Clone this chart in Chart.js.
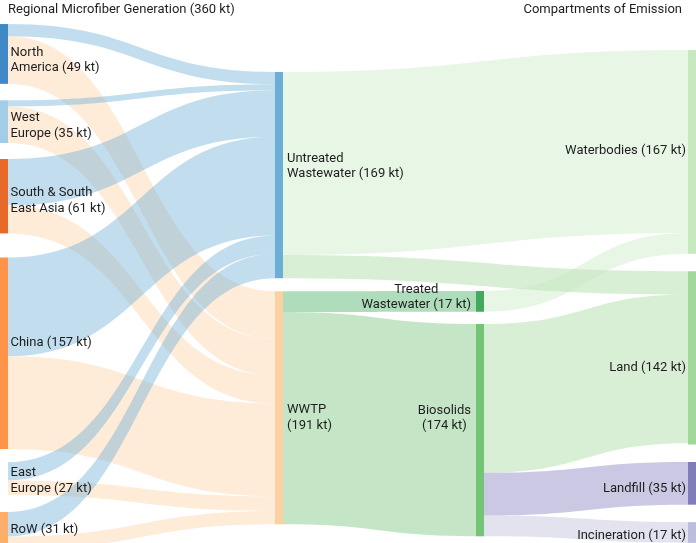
<!DOCTYPE html>
<html>
<head>
<meta charset="UTF-8">
<title>Microfiber flows</title>
<script src="https://cdn.jsdelivr.net/npm/chart.js@4.4.1/dist/chart.umd.min.js"></script>
<style>
	html, body { margin: 0; padding: 0; background: #fff; }
	#wrap { width: 696px; height: 543px; }
</style>
</head>
<body>
<div id="wrap"><canvas id="sankey"></canvas></div>
<script>
// ---- data (kt) ----
const nodeNames = ['North America', 'West Europe', 'South & South East Asia', 'China', 'East Europe', 'RoW',
	'Untreated Wastewater', 'WWTP', 'Treated Wastewater', 'Biosolids',
	'Waterbodies', 'Land', 'Landfill', 'Incineration'];
const nodeValues = [49, 35, 61, 157, 27, 31, 169, 191, 17, 174, 167, 142, 35, 17];
const nodeColumn = [0, 0, 0, 0, 0, 0, 1, 1, 2, 2, 3, 3, 3, 3];
const nodeLabels = [
	['North', 'America (49 kt)'], ['West', 'Europe (35 kt)'], ['South & South', 'East Asia (61 kt)'],
	['China (157 kt)'], ['East', 'Europe (27 kt)'], ['RoW (31 kt)'],
	['Untreated', 'Wastewater (169 kt)'], ['WWTP', '(191 kt)'],
	['Treated', 'Wastewater (17 kt)'], ['Biosolids', '(174 kt)'],
	['Waterbodies (167 kt)'], ['Land (142 kt)'], ['Landfill (35 kt)'], ['Incineration (17 kt)']
];
const linkSource = [0, 0, 1, 1, 2, 2, 3, 3, 4, 4, 5, 5, 6, 6, 7, 7, 8, 9, 9, 9];
const linkTarget = [6, 7, 6, 7, 6, 7, 6, 7, 6, 7, 6, 7, 10, 11, 8, 9, 10, 11, 12, 13];
const linkValue = [10, 39, 5, 30, 38, 23, 81, 76, 15, 12, 20, 11, 150, 19, 17, 174, 17, 122, 35, 17];
const leftTitle = 'Regional Microfiber Generation (360 kt)';
const rightTitle = 'Compartments of Emission';

// ---- layout / style ----
const colX = [0, 275, 476, 688];          // node left edge, x units
const nodeW = 8;
const colTop = [19.7, 59, 238.5, 41];     // kt from top
// space left above each node inside its column (kt)
const gapBefore = [0, 13.5, 13.1, 19.7, 10.7, 13.9, 0, 10.7, 0, 10, 0, 14.3, 14.3, 14.3];
const nodeColors = ['#3f8ac6', '#a3cde6', '#e86a2a', '#fd9449', 'rgba(0,0,0,0)', '#fdae6b',
	'#6baed6', '#fdd0a2', '#41ab5d', '#74c476', '#c7e9c0', '#a1d99b', '#807dba', '#bcbddc'];
const labelShift = [5, 2.5, 3.3, -11.7, 1, -3, -10, 8.5, -5.5, -13, -3, 8.5, 4, 1.5];
const linkAlpha = 0.42;
const font = '13px Roboto';
const lineH = 15.5;

function rgba(hex, a){
	let n = parseInt(hex.slice(1), 16);
	return 'rgba(' + (n >> 16) + ',' + ((n >> 8) & 255) + ',' + (n & 255) + ',' + a + ')';
}

// stack nodes in each column
let nodeY0 = [], nodeY1 = [];
let colCursor = colTop.slice();
for(let i = 0; i < nodeValues.length; i++){
	let c = nodeColumn[i];
	nodeY0[i] = colCursor[c] + gapBefore[i];
	nodeY1[i] = nodeY0[i] + nodeValues[i];
	colCursor[c] = nodeY1[i];
}

// link offsets: outgoing in target order, incoming in source order
let outPos = nodeY0.slice(), inPos = nodeY0.slice();
let links = [];
for(let i = 0; i < linkValue.length; i++){
	let s = linkSource[i], t = linkTarget[i], v = linkValue[i];
	links.push({s: s, t: t, sy0: outPos[s], sy1: outPos[s] + v, ty0: 0, ty1: 0});
	outPos[s] += v;
}
let bySource = links.slice().sort((a, b) => a.s - b.s);
for(let l of bySource){
	let v = l.sy1 - l.sy0;
	l.ty0 = inPos[l.t];
	l.ty1 = inPos[l.t] + v;
	inPos[l.t] += v;
}

const sankeyPlugin = {
	id: 'sankeyDraw',
	beforeDatasetsDraw(chart){
		const ctx = chart.ctx, x = chart.scales.x, y = chart.scales.y;
		ctx.save();
		for(let l of links){
			let xs = x.getPixelForValue(colX[nodeColumn[l.s]] + nodeW);
			let xt = x.getPixelForValue(colX[nodeColumn[l.t]]);
			let xm = (xs + xt) / 2;
			let a0 = y.getPixelForValue(l.sy0), a1 = y.getPixelForValue(l.sy1);
			let b0 = y.getPixelForValue(l.ty0), b1 = y.getPixelForValue(l.ty1);
			ctx.beginPath();
			ctx.moveTo(xs, a0);
			ctx.bezierCurveTo(xm, a0, xm, b0, xt, b0);
			ctx.lineTo(xt, b1);
			ctx.bezierCurveTo(xm, b1, xm, a1, xs, a1);
			ctx.closePath();
			ctx.fillStyle = rgba(nodeColors[l.t], linkAlpha);
			ctx.fill();
		}
		for(let i = 0; i < nodeValues.length; i++){
			let c = nodeColumn[i];
			let px0 = x.getPixelForValue(colX[c]), px1 = x.getPixelForValue(colX[c] + nodeW);
			let py0 = y.getPixelForValue(nodeY0[i]), py1 = y.getPixelForValue(nodeY1[i]);
			ctx.fillStyle = nodeColors[i];
			ctx.fillRect(px0, py0, px1 - px0, py1 - py0);
		}
		ctx.restore();
	},
	afterDraw(chart){
		const ctx = chart.ctx, x = chart.scales.x, y = chart.scales.y;
		ctx.save();
		ctx.font = font;
		ctx.fillStyle = '#1e1e1e';
		ctx.textBaseline = 'alphabetic';
		ctx.textAlign = 'left';
		ctx.fillText(leftTitle, 8, 12.5);
		ctx.textAlign = 'right';
		ctx.fillText(rightTitle, 682, 12.5);
		for(let i = 0; i < nodeValues.length; i++){
			let c = nodeColumn[i];
			let lines = nodeLabels[i];
			let mid = (y.getPixelForValue(nodeY0[i]) + y.getPixelForValue(nodeY1[i])) / 2 + labelShift[i];
			let base = mid - (lines.length - 1) * lineH / 2 + 4.6;
			if(c < 2){
				ctx.textAlign = 'left';
				let lx = x.getPixelForValue(colX[c] + nodeW) + (c == 0 ? 2.5 : 4);
				lines.forEach((t, k) => ctx.fillText(t, lx, base + k * lineH));
			}else if(c == 2){
				ctx.textAlign = 'center';
				let w = Math.max(...lines.map(t => ctx.measureText(t).width));
				let cx = x.getPixelForValue(colX[c]) - 5 - w / 2;
				lines.forEach((t, k) => ctx.fillText(t, cx, base + k * lineH));
			}else{
				ctx.textAlign = 'right';
				let rx = x.getPixelForValue(colX[c]) - 2;
				lines.forEach((t, k) => ctx.fillText(t, rx, base + k * lineH));
			}
		}
		ctx.restore();
	}
};

new Chart(document.getElementById('sankey'), {
	type: 'scatter',
	data: { datasets: [{ data: [], pointRadius: 0 }] },
	options: {
		responsive: true,
		maintainAspectRatio: false,
		animation: false,
		layout: { padding: 0 },
		plugins: { legend: { display: false }, tooltip: { enabled: false } },
		scales: {
			x: { type: 'linear', min: 0, max: 696, display: false },
			y: { type: 'linear', min: 0, max: 445, reverse: true, display: false }
		}
	},
	plugins: [sankeyPlugin]
});
</script>
</body>
</html>
